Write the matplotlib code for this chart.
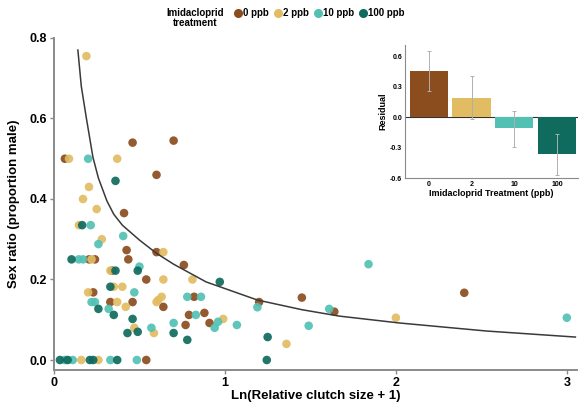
import numpy as np
import matplotlib.pyplot as plt
from matplotlib.lines import Line2D

plt.rcParams['font.family'] = ['Liberation Sans', 'DejaVu Sans']
plt.rcParams['font.weight'] = 'bold'

groups = ['0 ppb', '2 ppb', '10 ppb', '100 ppb']
colors = ['#8B4C1E', '#E2BC63', '#52C1B4', '#0F6B5D']

# points: (x, y) per treatment
x_0 = [0.46, 0.70, 0.064, 0.60, 0.41, 0.425, 0.60, 0.435, 0.205, 0.24, 0.76, 0.34,
       0.54, 0.23, 0.82, 0.33, 0.46, 1.20, 1.45, 0.64, 1.64, 0.79, 0.88, 0.91, 0.77,
       0.54, 2.40]
y_0 = [0.54, 0.545, 0.50, 0.46, 0.365, 0.273, 0.268, 0.25, 0.25, 0.25, 0.236, 0.222,
       0.20, 0.168, 0.157, 0.144, 0.144, 0.144, 0.155, 0.132, 0.12, 0.112, 0.117, 0.092,
       0.087, 0.0, 0.167]
x_2 = [0.19, 0.088, 0.37, 0.205, 0.17, 0.25, 0.146, 0.28, 0.64, 0.22, 0.33, 0.64,
       0.81, 0.35, 0.40, 0.20, 0.63, 0.61, 0.37, 0.60, 0.42, 0.99, 0.47, 0.585, 1.36,
       0.16, 0.26, 2.0]
y_2 = [0.755, 0.50, 0.50, 0.43, 0.40, 0.375, 0.335, 0.30, 0.268, 0.25, 0.222, 0.20,
       0.20, 0.182, 0.182, 0.168, 0.157, 0.149, 0.144, 0.144, 0.132, 0.102, 0.08, 0.067, 0.04,
       0.0, 0.0, 0.105]
x_10 = [0.20, 0.215, 0.405, 0.26, 0.145, 0.17, 0.50, 0.47, 0.78, 0.86, 0.22, 0.24,
        1.19, 0.32, 1.61, 0.83, 0.96, 0.70, 1.07, 0.94, 1.49, 0.57, 0.064, 0.11, 0.33,
        0.485, 1.84, 3.0]
y_10 = [0.50, 0.335, 0.308, 0.288, 0.25, 0.25, 0.232, 0.168, 0.157, 0.157, 0.144, 0.144,
        0.131, 0.127, 0.127, 0.112, 0.095, 0.092, 0.087, 0.08, 0.085, 0.08, 0.0, 0.0, 0.0,
        0.0, 0.238, 0.105]
x_100 = [0.36, 0.165, 0.103, 0.49, 0.36, 0.97, 0.33, 0.26, 0.35, 0.46, 0.43, 0.49,
         0.70, 1.25, 0.78, 1.245, 0.035, 0.08, 0.21, 0.23, 0.37]
y_100 = [0.445, 0.335, 0.25, 0.222, 0.222, 0.194, 0.182, 0.127, 0.112, 0.102, 0.067, 0.07,
         0.067, 0.057, 0.05, 0.0, 0.0, 0.0, 0.0, 0.0, 0.0]

# fitted curve
curve_x = [0.14, 0.16, 0.19, 0.228, 0.26, 0.31, 0.35, 0.40, 0.50, 0.60, 0.70, 0.89,
           1.19, 1.45, 1.67, 2.02, 2.53, 3.05]
curve_y = [0.77, 0.68, 0.60, 0.504, 0.452, 0.395, 0.362, 0.335, 0.298, 0.265, 0.238, 0.194,
           0.149, 0.125, 0.109, 0.092, 0.072, 0.057]

# inset residuals
bar_labels = ['0', '2', '10', '100']
residual = [0.453, 0.187, -0.107, -0.367]
err_low = [0.26, -0.017, -0.29, -0.573]
err_high = [0.65, 0.40, 0.06, -0.163]

fig = plt.figure(figsize=(5.8, 4.04), dpi=100)
ax = fig.add_axes([0.093, 0.084, 0.902, 0.822])

xs = [x_0, x_2, x_10, x_100]
ys = [y_0, y_2, y_10, y_100]
for gx, gy, c in zip(xs, ys, colors):
    ax.scatter(gx, gy, s=38, color=c, alpha=0.92, edgecolors='none', zorder=2)
ax.plot(curve_x, curve_y, color='#3a3a3a', lw=1.1, zorder=3)

ax.set_xlim(0, 3.06)
ax.set_ylim(-0.025, 0.8)
ax.set_xticks([0, 1, 2, 3])
ax.set_xticklabels(['0', '1', '2', '3'])
ax.set_yticks([0, 0.2, 0.4, 0.6, 0.8])
ax.set_yticklabels(['0.0', '0.2', '0.4', '0.6', '0.8'])
for sp in ['top', 'right']:
    ax.spines[sp].set_visible(False)
for sp in ['left', 'bottom']:
    ax.spines[sp].set_color('#8a8a8a')
    ax.spines[sp].set_linewidth(1.4)
ax.tick_params(colors='#8a8a8a', labelcolor='black', labelsize=9, length=3, width=1, pad=2)
ax.set_xlabel('Ln(Relative clutch size + 1)', fontsize=9.5, fontweight='bold')
ax.set_ylabel('Sex ratio (proportion male)', fontsize=9.5, fontweight='bold')
ax.xaxis.set_label_coords(0.5, -0.06)
ax.yaxis.set_label_coords(-0.065, 0.5)

# legend across the top
fig.text(0.337, 0.955, 'Imidacloprid\ntreatment', ha='center', va='center',
         fontsize=7, fontweight='bold', linespacing=1.05)
handles = [Line2D([], [], marker='o', ls='none', color=c, markersize=5.5) for c in colors]
fig.legend(handles, groups, loc='center left', bbox_to_anchor=(0.395, 0.967), ncol=4,
           frameon=False, fontsize=7, handletextpad=0.05, columnspacing=0.4,
           borderaxespad=0, handlelength=1.0)

# inset bar chart
ins = fig.add_axes([0.698, 0.559, 0.299, 0.33])
pos = np.arange(len(bar_labels))
yerr = [np.array(residual) - np.array(err_low), np.array(err_high) - np.array(residual)]
ins.bar(pos, residual, width=0.9, color=colors, zorder=2)
ins.errorbar(pos, residual, yerr=yerr, fmt='none', ecolor='#b0b0b0', elinewidth=0.7,
             capsize=1.2, capthick=0.7, zorder=3)
ins.axhline(0, color='#333333', lw=0.8, zorder=1)
ins.set_xlim(-0.565, 3.5)
ins.set_ylim(-0.6, 0.71)
ins.set_xticks(pos)
ins.set_xticklabels(bar_labels)
ins.set_yticks([-0.6, -0.3, 0.0, 0.3, 0.6])
ins.set_yticklabels(['-0.6', '-0.3', '0.0', '0.3', '0.6'])
for sp in ['top', 'right']:
    ins.spines[sp].set_visible(False)
for sp in ['left', 'bottom']:
    ins.spines[sp].set_color('#8a8a8a')
    ins.spines[sp].set_linewidth(0.8)
ins.tick_params(labelsize=5, length=0, pad=2)
ins.set_ylabel('Residual', fontsize=6.5, fontweight='bold', labelpad=2)
ins.set_xlabel('Imidacloprid Treatment (ppb)', fontsize=6.5, fontweight='bold', labelpad=1)

fig.savefig('out.png', dpi=100)
